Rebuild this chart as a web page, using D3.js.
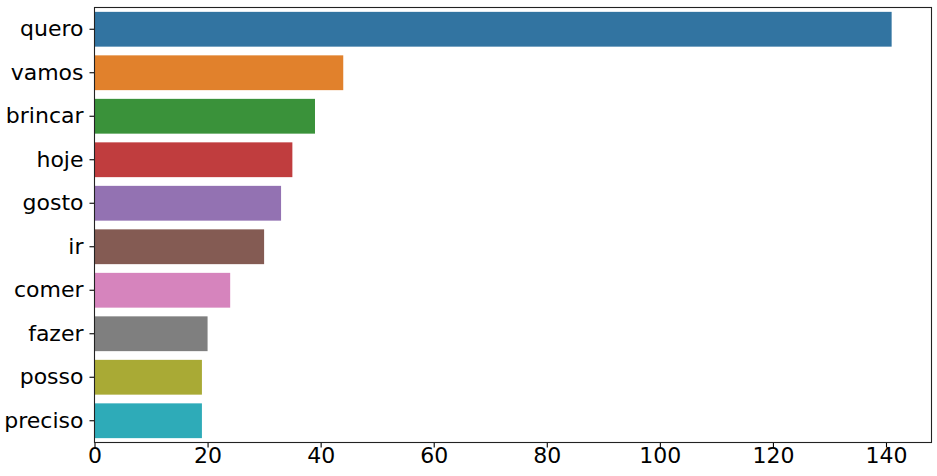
<!DOCTYPE html>
<html>
<head>
    <meta charset="utf-8">
    <script src="https://d3js.org/d3.v7.min.js"></script>
    <style>
        body { margin: 0; background: #fff; }
        text { font-family: "DejaVu Sans", sans-serif; fill: #000; }
    </style>
</head>
<body>
    <script>
        const width = 937, height = 476;
        const margin = {top: 7.5, right: 5.5, bottom: 33.5, left: 94.5};

        const words = ["quero", "vamos", "brincar", "hoje", "gosto", "ir", "comer", "fazer", "posso", "preciso"];
        const counts = [141, 44, 39, 35, 33, 30, 24, 20, 19, 19];
        const colors = ["#3274a1", "#e1812c", "#3a923a", "#c03d3e", "#9372b2",
                        "#845b53", "#d684bd", "#7f7f7f", "#a9aa35", "#2eabb8"];
        const xTicks = [0, 20, 40, 60, 80, 100, 120, 140];

        var svg = d3.select("body")
            .append("svg")
            .attr("width", width)
            .attr("height", height);

        var x = d3.scaleLinear()
            .domain([0, d3.max(counts) * 1.05])
            .range([margin.left, width - margin.right]);

        var y = d3.scaleBand()
            .domain(words)
            .range([margin.top, height - margin.bottom])
            .paddingInner(0.2)
            .paddingOuter(0.1);

        svg.selectAll("rect.bar")
            .data(words)
            .enter()
            .append("rect")
            .attr("class", "bar")
            .attr("x", x(0))
            .attr("y", d => y(d))
            .attr("width", (d, i) => x(counts[i]) - x(0))
            .attr("height", y.bandwidth())
            .attr("fill", (d, i) => colors[i]);

        var xAxis = svg.append("g")
            .attr("transform", "translate(0," + (height - margin.bottom) + ")")
            .call(d3.axisBottom(x).tickValues(xTicks).tickSize(5).tickPadding(3).tickFormat(d3.format("d")));

        var yAxis = svg.append("g")
            .attr("transform", "translate(" + margin.left + ",0)")
            .call(d3.axisLeft(y).tickSize(5).tickPadding(6));

        [xAxis, yAxis].forEach(function (g) {
            g.select(".domain").remove();
            g.selectAll("line").attr("stroke", "#000").attr("stroke-width", 1.1);
            g.selectAll("text").style("font-size", "22px").attr("fill", "#000");
        });
        xAxis.selectAll("text").attr("dy", "0.58em");

        // frame
        svg.append("rect")
            .attr("x", margin.left)
            .attr("y", margin.top)
            .attr("width", width - margin.left - margin.right)
            .attr("height", height - margin.top - margin.bottom)
            .attr("fill", "none")
            .attr("stroke", "#222")
            .attr("stroke-width", 1.1);
    </script>
</body>
</html>
